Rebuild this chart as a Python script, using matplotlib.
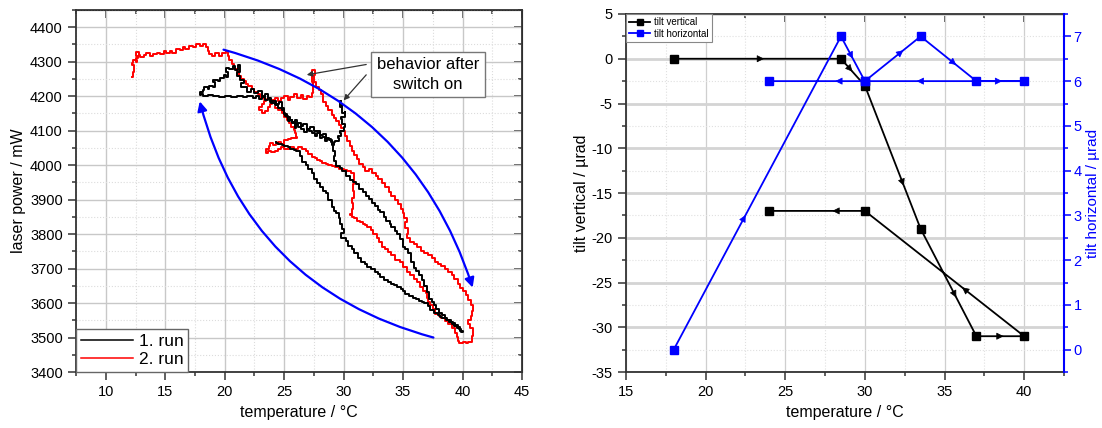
import numpy as np
import matplotlib.pyplot as plt
from matplotlib.ticker import MultipleLocator

plt.rcParams['font.family'] = ['Liberation Sans', 'DejaVu Sans']
plt.rcParams['axes.unicode_minus'] = False

# run 1 (black): (temperature / °C, laser power / mW)
run1 = [(29.8, 4185), (29.7, 4170), (29.9, 4175), (29.9, 4150), (30.1, 4155), (30.1, 4140),
        (29.8, 4135), (29.9, 4120), (30.1, 4110), (30.0, 4100), (29.7, 4092), (29.8, 4085),
        (29.5, 4078), (29.6, 4070), (29.3, 4066), (29.2, 4058), (29.0, 4068), (28.9, 4075),
        (28.6, 4070), (28.4, 4082), (28.2, 4078), (28.0, 4092), (27.8, 4086), (27.6, 4092),
        (27.3, 4098), (27.1, 4104), (26.9, 4096), (26.7, 4106), (26.4, 4112), (26.2, 4118),
        (26.0, 4108), (25.9, 4122), (25.7, 4132), (25.5, 4128), (25.3, 4142), (25.1, 4150),
        (25.0, 4165), (24.8, 4182), (24.6, 4176), (24.3, 4186), (24.0, 4182), (23.8, 4196),
        (23.6, 4190), (23.4, 4198), (23.1, 4193), (22.9, 4202), (22.6, 4196), (22.4, 4200),
        (21.9, 4197), (21.5, 4201), (21.0, 4198), (20.5, 4202), (20.0, 4199), (19.5, 4200),
        (19.0, 4203), (18.6, 4201), (18.2, 4206), (18.0, 4203), (17.9, 4212), (18.2, 4218),
        (18.3, 4226), (18.6, 4220), (18.7, 4230), (19.0, 4226), (19.2, 4240), (19.0, 4248),
        (19.4, 4244), (19.6, 4252), (19.9, 4262), (20.1, 4256), (20.3, 4270), (20.1, 4282),
        (20.4, 4278), (20.7, 4288), (20.9, 4276), (21.1, 4290), (21.3, 4270), (21.0, 4258),
        (21.3, 4248), (21.6, 4238), (21.4, 4226), (21.9, 4212), (22.2, 4220), (22.5, 4210),
        (22.8, 4214), (23.1, 4202), (23.4, 4206), (23.6, 4194), (23.9, 4180), (24.2, 4174),
        (24.5, 4166), (24.8, 4160), (25.0, 4148), (25.2, 4140), (25.5, 4132), (25.7, 4124),
        (25.9, 4130), (26.1, 4122), (26.4, 4114), (26.6, 4118), (26.9, 4106), (27.2, 4110),
        (27.5, 4098), (27.7, 4100), (28.0, 4088), (28.3, 4090), (28.5, 4078), (28.8, 4072),
        (29.0, 4060), (29.1, 4042), (29.3, 4028), (29.2, 4012), (29.4, 3998), (29.7, 3992),
        (29.9, 3982), (30.2, 3970), (30.5, 3958), (30.8, 3952), (31.0, 3944), (31.3, 3932),
        (31.6, 3922), (31.9, 3910), (32.1, 3902), (32.4, 3890), (32.6, 3882), (32.9, 3870),
        (33.1, 3864), (33.4, 3850), (33.6, 3838), (33.9, 3830), (34.0, 3822), (34.3, 3810),
        (34.5, 3800), (34.7, 3786), (35.0, 3764), (35.2, 3756), (35.4, 3744), (35.7, 3720),
        (35.9, 3702), (36.1, 3694), (36.3, 3680), (36.6, 3666), (36.8, 3650), (37.0, 3632),
        (37.2, 3612), (37.4, 3604), (37.6, 3594), (37.8, 3582), (38.0, 3572), (38.3, 3564),
        (38.5, 3558), (38.7, 3550), (38.9, 3546), (39.1, 3538), (39.3, 3534), (39.5, 3528),
        (39.7, 3524), (39.9, 3516), (40.0, 3520), (39.8, 3530), (39.6, 3536), (39.4, 3542),
        (39.2, 3545), (39.0, 3550), (38.8, 3552), (38.6, 3556), (38.3, 3560), (38.1, 3566),
        (37.9, 3572), (37.6, 3580), (37.3, 3592), (37.1, 3600), (36.8, 3602), (36.6, 3606),
        (36.3, 3612), (36.1, 3616), (35.8, 3620), (35.5, 3626), (35.2, 3634), (35.0, 3640),
        (34.8, 3646), (34.5, 3652), (34.2, 3656), (34.0, 3662), (33.7, 3668), (33.4, 3676),
        (33.1, 3684), (32.9, 3690), (32.6, 3698), (32.3, 3706), (32.0, 3714), (31.8, 3720),
        (31.5, 3732), (31.2, 3746), (30.9, 3756), (30.7, 3766), (30.4, 3780), (30.2, 3790),
        (29.8, 3802), (30.0, 3816), (29.9, 3830), (29.7, 3846), (29.6, 3860), (29.4, 3868),
        (29.2, 3880), (29.0, 3900), (28.7, 3918), (28.5, 3926), (28.3, 3936), (28.0, 3948),
        (27.8, 3960), (27.5, 3976), (27.3, 3990), (27.0, 4000), (26.8, 4010), (26.5, 4028),
        (26.3, 4040), (26.0, 4044), (25.8, 4046), (25.5, 4052), (25.3, 4056), (25.0, 4058),
        (24.8, 4062), (24.5, 4064), (24.3, 4066)]

# run 2 (red)
run2 = [(12.2, 4255), (12.3, 4270), (12.4, 4290), (12.2, 4296), (12.3, 4304), (12.6, 4300),
        (12.5, 4312), (12.7, 4318), (12.5, 4328), (12.8, 4320), (12.9, 4314), (13.2, 4320),
        (13.4, 4324), (13.7, 4318), (14.0, 4322), (14.3, 4326), (14.6, 4322), (14.9, 4330),
        (15.1, 4326), (15.4, 4332), (15.6, 4326), (15.9, 4336), (16.2, 4334), (16.5, 4342),
        (16.7, 4338), (17.0, 4346), (17.3, 4344), (17.6, 4350), (17.9, 4346), (18.2, 4350),
        (18.4, 4342), (18.6, 4332), (18.7, 4322), (18.9, 4316), (19.2, 4324), (19.5, 4318),
        (19.8, 4326), (20.1, 4330), (20.3, 4316), (20.4, 4304), (20.6, 4292), (20.8, 4280),
        (21.0, 4272), (21.2, 4260), (21.4, 4250), (21.6, 4244), (21.8, 4236), (22.0, 4230),
        (22.3, 4222), (22.5, 4212), (22.8, 4206), (23.0, 4198), (23.3, 4192), (23.5, 4186),
        (23.3, 4176), (23.1, 4168), (22.9, 4160), (23.1, 4150), (23.4, 4156), (23.6, 4168),
        (23.8, 4176), (24.0, 4190), (24.2, 4196), (24.5, 4186), (24.7, 4194), (25.0, 4200),
        (25.3, 4190), (25.5, 4198), (25.8, 4206), (26.1, 4196), (26.4, 4204), (26.6, 4192),
        (26.9, 4202), (27.1, 4198), (27.3, 4210), (27.4, 4240), (27.3, 4276), (27.6, 4262),
        (27.5, 4240), (27.7, 4228), (27.9, 4218), (28.1, 4206), (28.3, 4184), (28.5, 4172),
        (28.7, 4160), (29.0, 4146), (29.2, 4136), (29.4, 4128), (29.6, 4116), (29.8, 4108),
        (30.0, 4098), (30.1, 4084), (30.3, 4070), (30.5, 4056), (30.7, 4042), (30.9, 4030),
        (31.1, 4018), (31.3, 4004), (31.6, 3994), (31.8, 3984), (32.1, 3988), (32.4, 3978),
        (32.7, 3968), (32.9, 3960), (33.2, 3948), (33.5, 3936), (33.8, 3922), (34.0, 3910),
        (34.3, 3898), (34.6, 3886), (34.8, 3872), (35.0, 3860), (35.1, 3846), (35.3, 3834),
        (35.2, 3818), (35.4, 3800), (35.3, 3788), (35.6, 3778), (35.9, 3770), (36.2, 3762),
        (36.5, 3752), (36.8, 3746), (37.1, 3738), (37.4, 3730), (37.7, 3720), (37.9, 3714),
        (38.2, 3708), (38.5, 3700), (38.8, 3690), (39.1, 3682), (39.3, 3670), (39.6, 3656),
        (39.8, 3644), (40.0, 3634), (40.3, 3622), (40.5, 3610), (40.7, 3594), (40.9, 3576),
        (40.8, 3562), (40.7, 3550), (40.5, 3540), (40.6, 3528), (40.9, 3520), (40.9, 3504),
        (40.8, 3488), (40.5, 3484), (40.3, 3486), (40.0, 3484), (39.7, 3490), (39.6, 3502),
        (39.5, 3512), (39.4, 3528), (39.1, 3540), (38.8, 3548), (38.5, 3556), (38.2, 3562),
        (38.0, 3568), (37.7, 3582), (37.5, 3594), (37.3, 3604), (37.1, 3616), (37.0, 3628),
        (36.9, 3636), (36.7, 3648), (36.4, 3660), (36.2, 3670), (35.9, 3680), (35.6, 3690),
        (35.3, 3704), (35.0, 3718), (34.7, 3726), (34.3, 3740), (34.0, 3748), (33.7, 3756),
        (33.5, 3762), (33.2, 3778), (33.0, 3790), (32.8, 3800), (32.5, 3812), (32.3, 3820),
        (32.0, 3826), (31.8, 3830), (31.6, 3834), (31.4, 3838), (31.1, 3846), (30.9, 3850),
        (30.7, 3854), (30.5, 3858), (30.7, 3874), (30.8, 3890), (30.7, 3906), (30.9, 3924),
        (30.8, 3944), (30.9, 3960), (30.9, 3976), (30.6, 3982), (30.3, 3986), (30.0, 3990),
        (29.6, 3994), (29.3, 3998), (29.0, 4000), (28.7, 4004), (28.5, 4006), (28.2, 4012),
        (28.0, 4016), (27.8, 4020), (27.6, 4024), (27.3, 4032), (27.0, 4040), (26.8, 4046),
        (26.5, 4052), (26.2, 4048), (25.8, 4052), (25.4, 4048), (25.0, 4054), (24.7, 4046),
        (24.5, 4042), (24.2, 4038), (23.9, 4042), (23.6, 4036), (23.5, 4046), (23.7, 4056),
        (23.8, 4064), (24.1, 4058), (24.3, 4062), (24.5, 4066), (24.7, 4062), (25.0, 4072),
        (25.3, 4076), (25.6, 4080), (26.1, 4082), (26.0, 4092), (25.9, 4102), (25.8, 4112),
        (25.6, 4122), (25.4, 4132), (25.2, 4140), (25.0, 4152), (24.8, 4160), (24.5, 4166),
        (24.2, 4170)]

# tilt measurement
tilt_t = [18, 28.5, 30, 33.5, 37, 40, 30, 24]
tilt_vert = [0, 0, -3, -19, -31, -31, -17, -17]
tilt_horiz = [0, 7, 6, 7, 6, 6, 6, 6]
# where the direction arrow sits along each segment
vert_arrow_pos = [0.52, 0.46, 0.68, 0.62, 0.55, 0.37, 0.32]
horiz_arrow_pos = [0.41, 0.48, 0.67, 0.62, 0.52, 0.655, 0.29]

BLUE = '#0000ff'
fig = plt.figure(figsize=(11.02, 4.28), dpi=100)
ax1 = fig.add_axes([0.069, 0.1308, 0.4047, 0.8458])
ax2 = fig.add_axes([0.568, 0.1308, 0.3975, 0.8365])


def mirror_ticks(ax, xmaj, xmin, ymaj=None, ymin=None):
    top = ax.secondary_xaxis('top')
    top.set_xticks(np.arange(0, 100, xmaj))
    top.xaxis.set_minor_locator(MultipleLocator(xmin))
    top.tick_params(which='both', direction='in', labeltop=False, width=1.1, color='#333333')
    top.tick_params(which='major', length=6)
    top.tick_params(which='minor', length=3)
    if ymaj is not None:
        right = ax.secondary_yaxis('right')
        right.set_yticks(np.arange(0, 10000, ymaj))
        right.yaxis.set_minor_locator(MultipleLocator(ymin))
        right.tick_params(which='both', direction='in', labelright=False, width=1.1, color='#333333')
        right.tick_params(which='major', length=6)
        right.tick_params(which='minor', length=3)


# ---------- left panel ----------
r1t, r1p = zip(*run1)
r2t, r2p = zip(*run2)
ax1.plot(r2t, r2p, color='red', lw=1.4, drawstyle='steps-post', zorder=3)
ax1.plot(r1t, r1p, color='black', lw=1.4, drawstyle='steps-post', zorder=4)
ax1.set_xlim(7.5, 45)
ax1.set_ylim(3400, 4450)
ax1.xaxis.set_minor_locator(MultipleLocator(2.5))
ax1.yaxis.set_major_locator(MultipleLocator(100))
ax1.yaxis.set_minor_locator(MultipleLocator(50))
ax1.set_xticks(np.arange(10, 46, 5))
ax1.grid(which='major', color='#c8c8c8', lw=1.0)
ax1.grid(which='minor', color='#dcdcdc', lw=0.8, ls=':')
ax1.set_axisbelow(True)
ax1.tick_params(which='both', direction='out', labelsize=10.5, width=1.1, color='#333333')
ax1.tick_params(which='major', length=6)
ax1.tick_params(which='minor', length=3)
mirror_ticks(ax1, 5, 2.5, 100, 50)
for s in ax1.spines.values():
    s.set_color('#333333')
    s.set_linewidth(1.3)
ax1.set_xlabel('temperature / °C', fontsize=11.5, labelpad=4)
ax1.set_ylabel('laser power / mW', fontsize=11.5, labelpad=3)

h1, = ax1.plot([], [], color='black', lw=1.1, label='1. run')
h2, = ax1.plot([], [], color='red', lw=1.1, label='2. run')
leg = ax1.legend(handles=[h1, h2], loc='lower left', fontsize=12.5, fancybox=False,
                 borderaxespad=0, handlelength=3.0, handletextpad=0.3, borderpad=0.3,
                 labelspacing=0.15, framealpha=1)
leg.get_frame().set_edgecolor('#666666')
leg.get_frame().set_linewidth(1.0)

# curved blue arrows
ax1.annotate('', xy=(40.85, 3645), xytext=(19.9, 4335),
             arrowprops=dict(arrowstyle='-|>', color=BLUE, lw=1.6, mutation_scale=14,
                             shrinkA=0, shrinkB=0, connectionstyle='arc3,rad=-0.27'), zorder=5)
ax1.annotate('', xy=(17.9, 4185), xytext=(37.55, 3500),
             arrowprops=dict(arrowstyle='-|>', color=BLUE, lw=1.6, mutation_scale=14,
                             shrinkA=0, shrinkB=0, connectionstyle='arc3,rad=-0.29'), zorder=5)

# annotation box with two pointers
ax1.text(37.1, 4263, 'behavior after\nswitch on', fontsize=12, ha='center', va='center',
         linespacing=1.35, zorder=6,
         bbox=dict(boxstyle='square,pad=0.35', fc='white', ec='#777777', lw=1.0))
ax1.annotate('', xy=(26.9, 4262), xytext=(31.9, 4292),
             arrowprops=dict(arrowstyle='-|>', color='#333333', lw=0.9, mutation_scale=8,
                             shrinkA=0, shrinkB=0), zorder=6)
ax1.annotate('', xy=(30.0, 4188), xytext=(31.9, 4262),
             arrowprops=dict(arrowstyle='-|>', color='#333333', lw=0.9, mutation_scale=8,
                             shrinkA=0, shrinkB=0), zorder=6)

# ---------- right panel ----------
ax3 = ax2.twinx()
ax2.set_xlim(15, 42.5)
ax2.set_ylim(-35, 5)
ax3.set_ylim(-0.5, 7.5)

lv, = ax2.plot(tilt_t, tilt_vert, color='black', lw=1.3, marker='s', ms=6, zorder=4,
               label='tilt vertical')
lh, = ax3.plot(tilt_t, tilt_horiz, color=BLUE, lw=1.3, marker='s', ms=6, zorder=4,
               label='tilt horizontal')


def seg_arrows(ax, xs, ys, fracs, color):
    for i, f in enumerate(fracs):
        x0, y0, x1, y1 = xs[i], ys[i], xs[i + 1], ys[i + 1]
        xa, ya = x0 + f * (x1 - x0), y0 + f * (y1 - y0)
        xb, yb = x0 + (f + 0.02) * (x1 - x0), y0 + (f + 0.02) * (y1 - y0)
        ax.annotate('', xy=(xb, yb), xytext=(xa, ya),
                    arrowprops=dict(arrowstyle='-|>', color=color, lw=0.5, mutation_scale=11,
                                    shrinkA=0, shrinkB=0), zorder=5)


seg_arrows(ax2, tilt_t, tilt_vert, vert_arrow_pos, 'black')
seg_arrows(ax3, tilt_t, tilt_horiz, horiz_arrow_pos, BLUE)

ax2.xaxis.set_major_locator(MultipleLocator(5))
ax2.xaxis.set_minor_locator(MultipleLocator(2.5))
ax2.yaxis.set_major_locator(MultipleLocator(5))
ax2.yaxis.set_minor_locator(MultipleLocator(2.5))
ax2.grid(which='major', axis='y', color='#d4d4d4', lw=2.0)
ax2.grid(which='major', axis='x', color='#cfcfcf', lw=0.9)
ax2.grid(which='minor', color='#e0e0e0', lw=0.8, ls=':')
ax2.set_axisbelow(True)
ax2.tick_params(which='both', direction='out', labelsize=10.5, width=1.1, color='#333333')
ax2.tick_params(which='major', length=6)
ax2.tick_params(which='minor', length=3)
mirror_ticks(ax2, 5, 2.5)
for name, s in ax2.spines.items():
    s.set_color('#333333')
    s.set_linewidth(1.3)
ax3.spines['right'].set_color(BLUE)
ax3.spines['right'].set_linewidth(1.5)
for name in ['left', 'top', 'bottom']:
    ax3.spines[name].set_visible(False)
ax3.yaxis.set_minor_locator(MultipleLocator(0.5))
ax3.set_yticks(np.arange(0, 8, 1))
ax3.tick_params(which='both', direction='out', colors=BLUE, labelsize=10.5, width=1.1, pad=2)
ax3.tick_params(which='major', length=5)
ax3.tick_params(which='minor', length=3)

ax2.set_xlabel('temperature / °C', fontsize=11.5, labelpad=4)
ax2.set_ylabel('tilt vertical / µrad', fontsize=11.5, labelpad=2)
ax3.set_ylabel('tilt horizontal / µrad', fontsize=11, color=BLUE, labelpad=3)

leg2 = ax2.legend(handles=[lv, lh], loc='upper left', fontsize=7, fancybox=False,
                  borderaxespad=0, handlelength=2.2, handletextpad=0.4, borderpad=0.3,
                  labelspacing=0.2, markerscale=0.75, framealpha=1)
leg2.get_frame().set_edgecolor('#888888')
leg2.get_frame().set_linewidth(0.8)
leg2.set_zorder(10)

fig.savefig('out.png', dpi=100)
